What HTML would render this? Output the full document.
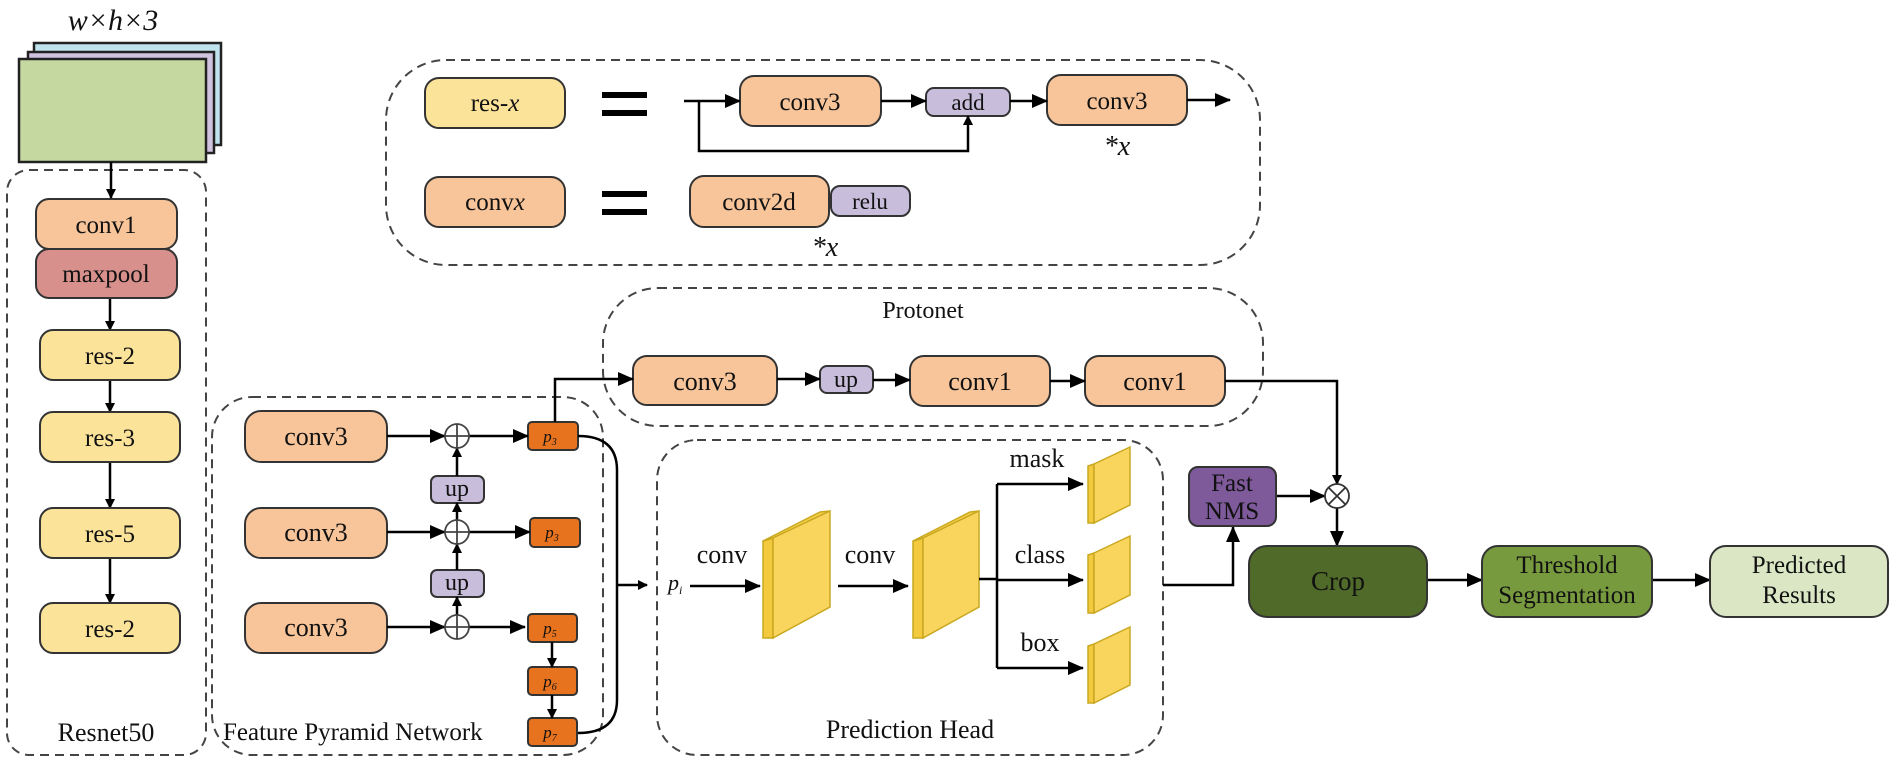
<!DOCTYPE html>
<html><head><meta charset="utf-8"><style>
html,body{margin:0;padding:0;background:#fff;}
svg{display:block;}
text{font-family:"Liberation Serif",serif;fill:#111;}
</style></head><body>
<svg width="1900" height="763" viewBox="0 0 1900 763" xmlns="http://www.w3.org/2000/svg">
<defs>
<marker id="a" markerWidth="10" markerHeight="10" refX="9" refY="5" orient="auto" markerUnits="userSpaceOnUse" viewBox="0 0 10 10"><path d="M0,0 L10,5 L0,10 z" fill="#000"/></marker>
<marker id="b" markerWidth="16" markerHeight="14" refX="15" refY="7" orient="auto" markerUnits="userSpaceOnUse" viewBox="0 0 16 14"><path d="M0,0 L16,7 L0,14 z" fill="#000"/></marker>
</defs>
<g stroke="#444" stroke-width="2" fill="none" stroke-dasharray="9,6">
<rect x="7" y="170" width="199" height="585" rx="22"/>
<rect x="212" y="397" width="391" height="358" rx="40"/>
<rect x="386" y="60" width="874" height="205" rx="60"/>
<rect x="603" y="288" width="660" height="138" rx="55"/>
<rect x="657" y="440" width="506" height="315" rx="40"/>
</g>
<text x="113" y="30" font-size="30" text-anchor="middle" font-style="italic">w×h×3</text>
<rect x="34" y="43" width="187" height="102" fill="#BFE3EF" stroke="#222" stroke-width="2.5"/>
<rect x="28" y="52" width="186" height="101" fill="#CFC3E0" stroke="#222" stroke-width="2.5"/>
<rect x="19" y="59" width="187" height="103" fill="#C5D89F" stroke="#222" stroke-width="2.5"/>
<g stroke="#000" stroke-width="2.5" fill="none">
<line x1="111" y1="162" x2="111" y2="198" marker-end="url(#a)"/>
<line x1="110" y1="298" x2="110" y2="330" marker-end="url(#a)"/>
<line x1="110" y1="380" x2="110" y2="412" marker-end="url(#a)"/>
<line x1="110" y1="462" x2="110" y2="508" marker-end="url(#a)"/>
<line x1="110" y1="558" x2="110" y2="603" marker-end="url(#a)"/>
</g>
<g stroke="#333" stroke-width="2">
<rect x="36" y="199" width="141" height="50" rx="13" fill="#F8C59A"/>
<rect x="36" y="249" width="141" height="49" rx="13" fill="#D8908C"/>
<rect x="40" y="330" width="140" height="50" rx="13" fill="#FBE39A"/>
<rect x="40" y="412" width="140" height="50" rx="13" fill="#FBE39A"/>
<rect x="40" y="508" width="140" height="50" rx="13" fill="#FBE39A"/>
<rect x="40" y="603" width="140" height="50" rx="13" fill="#FBE39A"/>
</g>
<g font-size="25" text-anchor="middle">
<text x="106" y="233">conv1</text>
<text x="106" y="282">maxpool</text>
<text x="110" y="364">res-2</text>
<text x="110" y="446">res-3</text>
<text x="110" y="542">res-5</text>
<text x="110" y="637">res-2</text>
<text x="106" y="741" font-size="26">Resnet50</text>
</g>
<!-- top legend -->
<g stroke="#333" stroke-width="2">
<rect x="425" y="78" width="140" height="50" rx="14" fill="#FBE39A"/>
<rect x="425" y="177" width="140" height="50" rx="14" fill="#F8C59A"/>
<rect x="740" y="76" width="141" height="50" rx="14" fill="#F8C59A"/>
<rect x="926" y="88" width="84" height="28" rx="8" fill="#C8BEDB"/>
<rect x="1047" y="75" width="140" height="50" rx="14" fill="#F8C59A"/>
<rect x="690" y="176" width="139" height="51" rx="14" fill="#F8C59A"/>
<rect x="831" y="186" width="79" height="30" rx="9" fill="#C8BEDB"/>
</g>
<g fill="#000">
<rect x="602" y="92" width="45" height="6"/><rect x="602" y="110" width="45" height="6"/>
<rect x="602" y="191" width="45" height="6"/><rect x="602" y="209" width="45" height="6"/>
</g>
<g stroke="#000" stroke-width="2.5" fill="none">
<line x1="684" y1="101" x2="740" y2="101" marker-end="url(#b)"/>
<polyline points="699,101 699,151 968,151 968,116" marker-end="url(#a)"/>
<line x1="881" y1="101" x2="926" y2="101" marker-end="url(#b)"/>
<line x1="1010" y1="101" x2="1047" y2="101" marker-end="url(#b)"/>
<line x1="1187" y1="100" x2="1230" y2="100" marker-end="url(#b)"/>
</g>
<g font-size="25" text-anchor="middle">
<text x="495" y="111">res-<tspan font-style="italic">x</tspan></text>
<text x="495" y="210">conv<tspan font-style="italic">x</tspan></text>
<text x="810" y="110">conv3</text>
<text x="968" y="110" font-size="23">add</text>
<text x="1117" y="109">conv3</text>
<text x="759" y="210">conv2d</text>
<text x="870" y="209" font-size="23">relu</text>
<text x="1117" y="155" font-size="28" font-style="italic">*x</text>
<text x="825" y="256" font-size="28" font-style="italic">*x</text>
</g>
<!-- Protonet -->
<text x="923" y="318" font-size="24" text-anchor="middle">Protonet</text>
<g stroke="#333" stroke-width="2">
<rect x="633" y="356" width="144" height="49" rx="14" fill="#F8C59A"/>
<rect x="820" y="366" width="53" height="27" rx="7" fill="#C8BEDB"/>
<rect x="910" y="356" width="140" height="50" rx="14" fill="#F8C59A"/>
<rect x="1085" y="356" width="140" height="50" rx="14" fill="#F8C59A"/>
</g>
<g font-size="26" text-anchor="middle">
<text x="705" y="390">conv3</text>
<text x="846" y="387" font-size="24">up</text>
<text x="980" y="390">conv1</text>
<text x="1155" y="390">conv1</text>
</g>
<g stroke="#000" stroke-width="2.5" fill="none">
<line x1="777" y1="379" x2="820" y2="379" marker-end="url(#b)"/>
<line x1="873" y1="380" x2="910" y2="380" marker-end="url(#b)"/>
<line x1="1050" y1="381" x2="1085" y2="381" marker-end="url(#b)"/>
<polyline points="1225,381 1337,381 1337,484" marker-end="url(#a)"/>
</g>
<!-- FPN -->
<g stroke="#333" stroke-width="2">
<rect x="245" y="411" width="142" height="51" rx="16" fill="#F8C59A"/>
<rect x="245" y="508" width="142" height="50" rx="16" fill="#F8C59A"/>
<rect x="245" y="603" width="142" height="50" rx="16" fill="#F8C59A"/>
<rect x="431" y="476" width="53" height="27" rx="6" fill="#C8BEDB"/>
<rect x="431" y="570" width="53" height="27" rx="6" fill="#C8BEDB"/>
<g fill="#E8731E">
<rect x="528" y="422" width="50" height="28" rx="4"/>
<rect x="530" y="518" width="50" height="29" rx="4"/>
<rect x="528" y="614" width="49" height="28" rx="4"/>
<rect x="528" y="667" width="49" height="28" rx="4"/>
<rect x="528" y="718" width="49" height="28" rx="4"/>
</g>
</g>
<g font-size="26" text-anchor="middle">
<text x="316" y="445">conv3</text>
<text x="316" y="541">conv3</text>
<text x="316" y="636">conv3</text>
<text x="457" y="496" font-size="24">up</text>
<text x="457" y="590" font-size="24">up</text>
</g>
<g font-size="17" font-style="italic" text-anchor="middle">
<text x="550" y="442">p<tspan font-size="10" dy="3">3</tspan></text>
<text x="552" y="538">p<tspan font-size="10" dy="3">3</tspan></text>
<text x="550" y="634">p<tspan font-size="10" dy="3">5</tspan></text>
<text x="550" y="687">p<tspan font-size="10" dy="3">6</tspan></text>
<text x="550" y="738">p<tspan font-size="10" dy="3">7</tspan></text>
</g>
<text x="223" y="740" font-size="25">Feature Pyramid Network</text>
<g stroke="#000" stroke-width="2.5" fill="none">
<line x1="387" y1="436" x2="445" y2="436" marker-end="url(#b)"/>
<line x1="387" y1="532" x2="445" y2="532" marker-end="url(#b)"/>
<line x1="387" y1="627" x2="445" y2="627" marker-end="url(#b)"/>
<line x1="469" y1="436" x2="528" y2="436" marker-end="url(#b)"/>
<line x1="469" y1="532" x2="530" y2="532" marker-end="url(#b)"/>
<line x1="469" y1="627" x2="525" y2="627" marker-end="url(#b)"/>
<line x1="457" y1="476" x2="457" y2="448" marker-end="url(#a)"/>
<line x1="457" y1="520" x2="457" y2="503" marker-end="url(#a)"/>
<line x1="457" y1="570" x2="457" y2="544" marker-end="url(#a)"/>
<line x1="457" y1="615" x2="457" y2="597" marker-end="url(#a)"/>
<line x1="552" y1="642" x2="552" y2="667" marker-end="url(#a)"/>
<line x1="552" y1="695" x2="552" y2="718" marker-end="url(#a)"/>
<polyline points="555,422 555,379 633,379" marker-end="url(#b)"/>
<path d="M578,436 Q617,436 617,470 L617,700 Q617,733 578,733"/>
<line x1="617" y1="585" x2="647" y2="585" marker-end="url(#a)"/>
</g>
<g stroke="#444" stroke-width="1.8" fill="#fff">
<circle cx="457" cy="436" r="12"/><circle cx="457" cy="532" r="12"/><circle cx="457" cy="627" r="12"/>
</g>
<g stroke="#444" stroke-width="1.8">
<path d="M445,436 h24 M457,424 v24 M445,532 h24 M457,520 v24 M445,627 h24 M457,615 v24"/>
</g>
<!-- Prediction head -->
<text x="668" y="590" font-size="22" font-style="italic">p<tspan font-size="12" dy="4">i</tspan></text>
<text x="722" y="563" font-size="26" text-anchor="middle">conv</text>
<text x="870" y="563" font-size="26" text-anchor="middle">conv</text>
<text x="1037" y="467" font-size="26" text-anchor="middle">mask</text>
<text x="1040" y="563" font-size="26" text-anchor="middle">class</text>
<text x="1040" y="651" font-size="26" text-anchor="middle">box</text>
<text x="910" y="738" font-size="26" text-anchor="middle">Prediction Head</text>
<g stroke="#C9A820" stroke-width="1.5" fill="#F9D55E">
<path d="M763,541 L773,538 L773,638 L763,638 Z" fill="#F3C93E"/>
<path d="M763,541 L820,512 L830,511 L773,538 Z" fill="#F6CF4A"/>
<path d="M773,538 L830,511 L830,607 L773,638 Z"/>
<path d="M913,541 L923,538 L923,638 L913,638 Z" fill="#F3C93E"/>
<path d="M913,541 L970,512 L979,511 L923,538 Z" fill="#F6CF4A"/>
<path d="M923,538 L979,511 L979,607 L923,638 Z"/>
<path d="M1088,466 L1094,464 L1094,523 L1088,523 Z" fill="#F3C93E"/>
<path d="M1094,464 L1130,447 L1130,505 L1094,523 Z"/>
<path d="M1088,555 L1094,553 L1094,613 L1088,613 Z" fill="#F3C93E"/>
<path d="M1094,553 L1130,536 L1130,595 L1094,613 Z"/>
<path d="M1088,646 L1094,644 L1094,703 L1088,703 Z" fill="#F3C93E"/>
<path d="M1094,644 L1130,627 L1130,685 L1094,703 Z"/>
</g>
<g stroke="#000" stroke-width="2.5" fill="none">
<line x1="690" y1="586" x2="760" y2="586" marker-end="url(#b)"/>
<line x1="838" y1="586" x2="908" y2="586" marker-end="url(#b)"/>
<polyline points="979,579 997,579"/>
<line x1="997" y1="484" x2="997" y2="668"/>
<line x1="997" y1="484" x2="1083" y2="484" marker-end="url(#b)"/>
<line x1="997" y1="580" x2="1083" y2="580" marker-end="url(#b)"/>
<line x1="997" y1="668" x2="1083" y2="668" marker-end="url(#b)"/>
<polyline points="1163,585 1233,585 1233,527" marker-end="url(#b)"/>
<line x1="1276" y1="496" x2="1325" y2="496" marker-end="url(#b)"/>
<line x1="1337" y1="508" x2="1337" y2="546" marker-end="url(#b)"/>
<line x1="1427" y1="580" x2="1482" y2="580" marker-end="url(#b)"/>
<line x1="1652" y1="580" x2="1710" y2="580" marker-end="url(#b)"/>
</g>
<circle cx="1337" cy="496" r="12" fill="#fff" stroke="#333" stroke-width="1.8"/>
<path d="M1329,488 L1345,504 M1345,488 L1329,504" stroke="#333" stroke-width="1.8"/>
<g stroke="#333" stroke-width="2">
<rect x="1189" y="467" width="87" height="59" rx="9" fill="#7E5A9B"/>
<rect x="1249" y="546" width="178" height="71" rx="18" fill="#4F6A29"/>
<rect x="1482" y="546" width="170" height="71" rx="16" fill="#789A3E"/>
<rect x="1710" y="546" width="178" height="71" rx="16" fill="#DAE6C4"/>
</g>
<g font-size="25" text-anchor="middle">
<text x="1232" y="491">Fast</text>
<text x="1232" y="519">NMS</text>
<text x="1338" y="590" font-size="27">Crop</text>
<text x="1567" y="573">Threshold</text>
<text x="1567" y="603">Segmentation</text>
<text x="1799" y="573">Predicted</text>
<text x="1799" y="603">Results</text>
</g>
</svg>
</body></html>
